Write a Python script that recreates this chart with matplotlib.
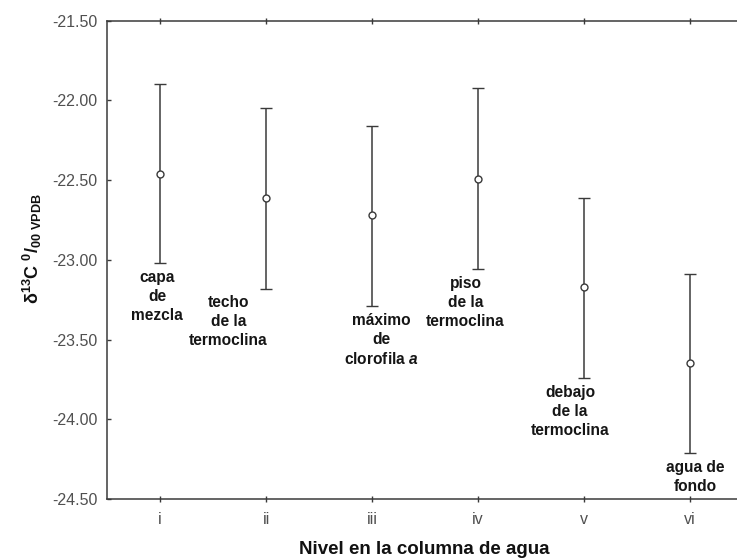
import numpy as np
import matplotlib
matplotlib.use('Agg')
import matplotlib.pyplot as plt

plt.rcParams['font.family'] = ['Liberation Sans', 'DejaVu Sans']
plt.rcParams['mathtext.fontset'] = 'custom'
plt.rcParams['mathtext.default'] = 'rm'
plt.rcParams['mathtext.rm'] = 'Liberation Sans:bold'
plt.rcParams['mathtext.bf'] = 'Liberation Sans:bold'
plt.rcParams['mathtext.it'] = 'Liberation Sans:bold:italic'

# water column levels and d13C (mean with interval limits)
levels = ['i', 'ii', 'iii', 'iv', 'v', 'vi']
level_names = ['capa\nde\nmezcla',
               'techo\nde la\ntermoclina',
               'máximo\nde\nclorofila $\\mathit{a}$',
               'piso\nde la\ntermoclina',
               'debajo\nde la\ntermoclina',
               'agua de\nfondo']
d13c_mean = [-22.46, -22.61, -22.72, -22.49, -23.17, -23.65]
d13c_low = [-23.02, -23.18, -23.29, -23.06, -23.74, -24.21]
d13c_high = [-21.90, -22.05, -22.16, -21.92, -22.61, -23.09]

# horizontal shift of each name label (points)
name_dx = [-2, -27, 7, -9, -10, 4]

grey = '#505050'
dark = '#3a3a3a'

fig = plt.figure(figsize=(7.37, 5.59), dpi=100)
ax = fig.add_axes([0.1452, 0.1073, 0.8630, 0.8557])

x = np.arange(1, len(levels) + 1)
mean = np.array(d13c_mean)
yerr = [mean - np.array(d13c_low), np.array(d13c_high) - mean]

ax.errorbar(x, mean, yerr=yerr, fmt='o', color=dark, ecolor=dark,
            elinewidth=1.1, capsize=4.5, capthick=1.1,
            markersize=5, markerfacecolor='white', markeredgecolor=dark,
            markeredgewidth=1.0, zorder=3)

for xi, lo, name, dx in zip(x, d13c_low, level_names, name_dx):
    ax.annotate(name, xy=(xi, lo), xytext=(dx, -5), textcoords='offset points',
                ha='center', va='top', fontsize=11.2, fontweight='bold',
                color='#151515', linespacing=1.33, multialignment='center')

ax.set_xlim(0.5, 6.5)
ax.set_ylim(-24.5, -21.5)
ax.set_xticks(x)
ax.set_xticklabels(levels)
ax.set_yticks(np.arange(-24.5, -21.49, 0.5))
ax.set_yticklabels(['%.2f' % v for v in np.arange(-24.5, -21.49, 0.5)])

ax.tick_params(axis='x', which='both', top=True, bottom=True, direction='inout',
               length=4, width=1, color=dark, labelsize=11.5, labelcolor=grey, pad=7)
ax.tick_params(axis='y', which='both', left=True, right=False, direction='in',
               length=3, width=1, color=dark, labelsize=11.5, labelcolor=grey, pad=7)

for side in ['left', 'bottom', 'top']:
    ax.spines[side].set_color(dark)
    ax.spines[side].set_linewidth(1.1)
ax.spines['right'].set_visible(False)

ax.set_xlabel('Nivel en la columna de agua', fontsize=13.5, fontweight='bold',
              color='#111111')
ax.xaxis.set_label_coords(0.498, -0.088)
ax.set_ylabel('δ$^{13}$C $^{0}$/$_{00\\ VPDB}$', fontsize=13,
              fontweight='bold', color='#111111')
ax.yaxis.set_label_coords(-0.099, 0.524)

fig.savefig('out.png', dpi=100, facecolor='white')
